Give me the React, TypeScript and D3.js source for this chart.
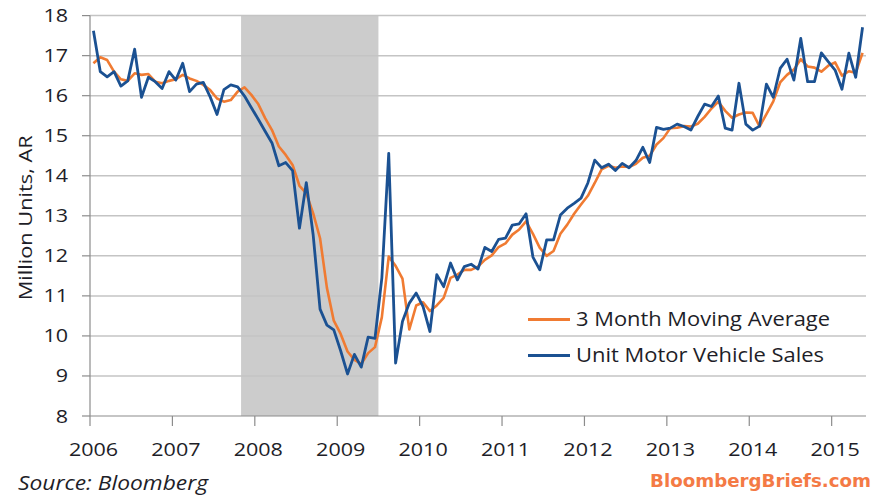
import React from "react";
import * as d3 from "d3";

// Monthly data, Jan 2006 .. May 2015 (113 months)
const startYear = 2006;
const salesValues: number[] = [
  17.62, 16.6, 16.47, 16.6, 16.24, 16.37, 17.16, 15.96, 16.46, 16.35, 16.18, 16.6,
  16.39, 16.81, 16.1, 16.29, 16.33, 15.97, 15.53, 16.15, 16.27, 16.22, 15.99, 15.7,
  15.41, 15.11, 14.82, 14.25, 14.33, 14.13, 12.69, 13.83, 12.52, 10.67, 10.27, 10.15,
  9.63, 9.05, 9.54, 9.22, 9.97, 9.94, 11.45, 14.56, 9.32, 10.36, 10.82, 11.07,
  10.73, 10.11, 11.53, 11.23, 11.82, 11.4, 11.73, 11.79, 11.67, 12.21, 12.11, 12.41,
  12.44, 12.77, 12.8, 13.05, 11.97, 11.65, 12.4, 12.4, 13.02, 13.19, 13.31, 13.44,
  13.82, 14.39, 14.2, 14.29, 14.13, 14.31, 14.2, 14.38, 14.71, 14.33, 15.21, 15.16,
  15.19, 15.29, 15.23, 15.14, 15.48, 15.79, 15.73, 15.99, 15.19, 15.14, 16.31, 15.29,
  15.14, 15.24, 16.29, 15.96, 16.68, 16.91, 16.39, 17.43, 16.35, 16.35, 17.07, 16.85,
  16.64, 16.16, 17.06, 16.46, 17.71,
];
const movingAvgValues: number[] = [
  16.81, 16.96, 16.89, 16.6, 16.41, 16.37, 16.56, 16.52, 16.54, 16.35, 16.31, 16.37,
  16.41, 16.52, 16.43, 16.37, 16.27, 16.14, 15.93, 15.85, 15.89, 16.1, 16.21, 16.02,
  15.79, 15.44, 15.14, 14.73, 14.52, 14.27, 13.75, 13.56, 13.06, 12.44, 11.2, 10.38,
  10.05, 9.61, 9.4, 9.3, 9.57, 9.72, 10.47, 11.98, 11.75, 11.43, 10.16, 10.76,
  10.84, 10.62, 10.76, 10.95, 11.45, 11.53, 11.65, 11.65, 11.73, 11.9, 12.01, 12.22,
  12.31, 12.53, 12.66, 12.86, 12.55, 12.2, 12.0, 12.12, 12.55, 12.78, 13.05, 13.28,
  13.5, 13.82, 14.16, 14.25, 14.2, 14.23, 14.22, 14.3, 14.45, 14.5, 14.78, 14.94,
  15.19, 15.2, 15.24, 15.23, 15.3, 15.47, 15.68, 15.85, 15.62, 15.45, 15.53, 15.58,
  15.57, 15.23, 15.54, 15.86, 16.33, 16.52, 16.65, 16.91, 16.73, 16.7, 16.6, 16.75,
  16.83, 16.5, 16.61, 16.57, 17.07,
];
const yTicks: number[] = [8, 9, 10, 11, 12, 13, 14, 15, 16, 17, 18];
const yearLabels: string[] = ["2006", "2007", "2008", "2009", "2010", "2011", "2012", "2013", "2014", "2015"];
// Recession shading (month indices from Jan 2006, category boundaries)
const recessionStart = 22;
const recessionEnd = 42;
const seriesNames: string[] = ["3 Month Moving Average", "Unit Motor Vehicle Sales"];

const W = 874;
const H = 495;
const left = 90;
const right = 866;
const top = 15.6;
const bottom = 416;
const orange = "#f07b32";
const blue = "#1b5192";
const font = "'Open Sans', Lato, sans-serif";
const textColor = "#1e1e28";
const digitW = 12.3;

export default function App() {
  const n = salesValues.length;
  const x = d3.scaleLinear().domain([0, n]).range([left, right]);
  const y = d3.scaleLinear().domain([8, 18]).range([bottom, top]);
  const line = d3
    .line<number>()
    .x((_, i) => x(i + 0.5))
    .y((d) => y(d));

  return (
    <svg
      width={W}
      height={H}
      style={{ position: "absolute", left: 0, top: 0, background: "#fff" }}
      fontFamily={font}
    >
      <rect
        x={x(recessionStart)}
        y={top}
        width={x(recessionEnd) - x(recessionStart)}
        height={bottom - top}
        fill="#cccccc"
      />
      {yTicks.map((t) => (
        <g key={t}>
          {t > 8 && (
            <line x1={left} x2={right} y1={y(t)} y2={y(t)} stroke="#c4c4c4" strokeWidth={1.5} />
          )}
          <line x1={left - 8} x2={left} y1={y(t)} y2={y(t)} stroke="#8c8c8c" strokeWidth={1.2} />
          <text
            x={68}
            y={y(t) + 6.5}
            textAnchor="end"
            fontSize={18.5}
            fill={textColor}
            textLength={String(t).length * digitW}
            lengthAdjust="spacingAndGlyphs"
          >
            {t}
          </text>
        </g>
      ))}
      <line x1={left} x2={left} y1={top} y2={bottom} stroke="#8c8c8c" strokeWidth={1.2} />
      <line x1={left} x2={right} y1={bottom} y2={bottom} stroke="#8c8c8c" strokeWidth={1.2} />
      {yearLabels.map((lab, k) => {
        const xx = x(k * 12);
        return (
          <g key={lab}>
            <line x1={xx} x2={xx} y1={bottom} y2={bottom + 10} stroke="#8c8c8c" strokeWidth={1.2} />
            <text
              x={xx + 3.5}
              y={456}
              textAnchor="middle"
              fontSize={18.5}
              fill={textColor}
              textLength={lab.length * digitW}
              lengthAdjust="spacingAndGlyphs"
            >
              {lab}
            </text>
          </g>
        );
      })}
      <text
        transform={`translate(31.5, ${(top + bottom) / 2 + 2}) rotate(-90)`}
        textAnchor="middle"
        fontSize={18.5}
        fill={textColor}
        textLength={165}
        lengthAdjust="spacingAndGlyphs"
      >
        Million Units, AR
      </text>
      <path d={line(movingAvgValues) || ""} fill="none" stroke={orange} strokeWidth={2.6} strokeLinejoin="round" />
      <path d={line(salesValues) || ""} fill="none" stroke={blue} strokeWidth={2.8} strokeLinejoin="round" />
      {/* legend */}
      <line x1={528} x2={570} y1={319.5} y2={319.5} stroke={orange} strokeWidth={2.8} />
      <text x={576} y={326} fontSize={19.5} fill={textColor} textLength={254} lengthAdjust="spacingAndGlyphs">
        {seriesNames[0]}
      </text>
      <line x1={528} x2={570} y1={355.5} y2={355.5} stroke={blue} strokeWidth={2.8} />
      <text x={576} y={362} fontSize={19.5} fill={textColor} textLength={248} lengthAdjust="spacingAndGlyphs">
        {seriesNames[1]}
      </text>
      <text
        x={18}
        y={490}
        fontSize={19.5}
        fontStyle="italic"
        fill={textColor}
        textLength={190}
        lengthAdjust="spacingAndGlyphs"
      >
        Source: Bloomberg
      </text>
      <text
        x={871}
        y={487}
        textAnchor="end"
        fontSize={18}
        fontWeight="bold"
        fill="#f47a45"
        fontFamily="'DejaVu Sans', Verdana, sans-serif"
        textLength={221}
        lengthAdjust="spacingAndGlyphs"
      >
        BloombergBriefs.com
      </text>
    </svg>
  );
}
